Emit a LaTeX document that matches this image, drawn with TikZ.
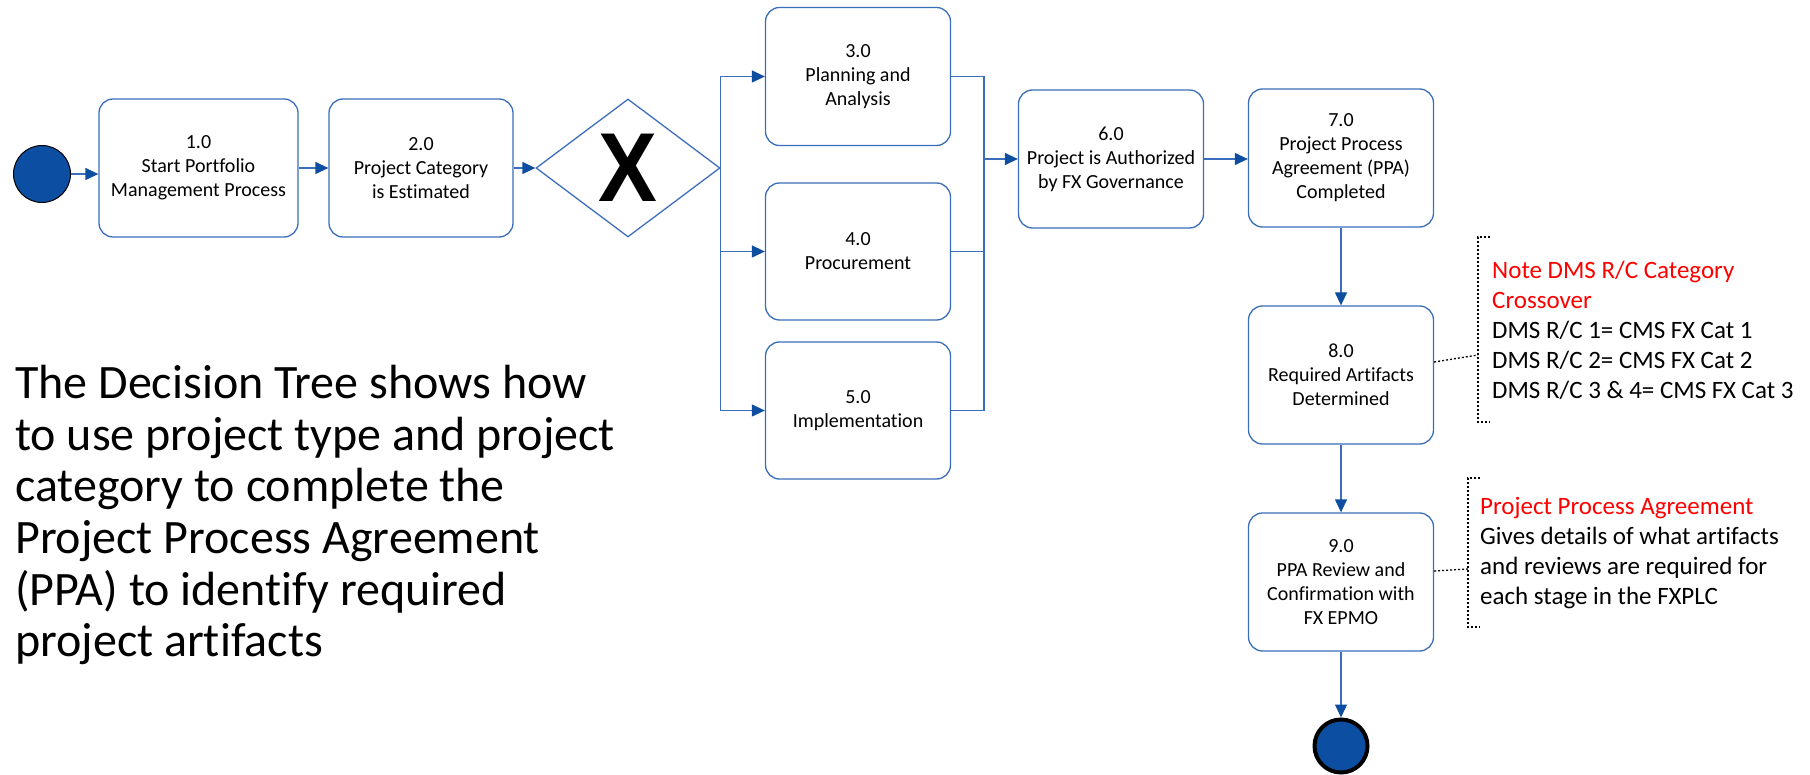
\documentclass[tikz,border=0pt]{standalone}
\usepackage{fontspec}
\setmainfont{Carlito}[Ligatures={NoCommon}]
\newfontfamily\xfont{Liberation Sans}
\usetikzlibrary{arrows.meta,shapes.geometric}
\definecolor{lineblue}{RGB}{58,110,186}
\definecolor{tipblue}{RGB}{14,78,160}
\definecolor{dotblue}{RGB}{12,78,162}
\definecolor{notered}{RGB}{255,0,0}
\begin{document}
\begin{tikzpicture}[x=1pt,y=-1pt,
  proc/.style={draw=lineblue, line width=1.3pt, rounded corners=14pt,
    minimum width=185pt, minimum height=138pt, align=center,
    font=\fontsize{20}{24}\selectfont, inner sep=2pt},
  arr/.style={draw=lineblue, line width=1.3pt,
    -{Triangle[length=13pt,width=12pt,color=tipblue]}},
  flow/.style={draw=lineblue, line width=1.3pt},
  dots/.style={draw=black, line width=1.3pt, dash pattern=on 2pt off 2pt},
  notetext/.style={anchor=west, align=left, inner sep=0pt,
    font=\fontsize{25}{30}\selectfont}]
\useasboundingbox (0,0) rectangle (1810,775);

% events
\node[circle, fill=dotblue, draw=black, line width=1pt, minimum size=57pt, inner sep=0pt] (start) at (42,174) {};
\node[circle, fill=dotblue, draw=black, line width=4pt, minimum size=53pt, inner sep=0pt] (end) at (1341,746) {};

% tasks
\node[proc, minimum width=199pt] (b1) at (198.5,168) {1.0\\Start Portfolio\\Management Process};
\node[proc, minimum width=184pt] (b2) at (421,168) {2.0\\Project Category\\is Estimated};
\node[diamond, aspect=1.333, draw=lineblue, line width=1.3pt, minimum width=184pt, minimum height=138pt, inner sep=0pt,
  font=\xfont\bfseries\fontsize{98}{98}\selectfont] (dia) at (628,168) {\scalebox{0.9}[1]{X}};
\node[proc] (b3) at (858,76.5) {3.0\\Planning and\\Analysis};
\node[proc, minimum height=137pt] (b4) at (858,251.5) {4.0\\Procurement};
\node[proc, minimum height=137pt] (b5) at (858,410.5) {5.0\\Implementation};
\node[proc] (b6) at (1111,159) {6.0\\Project is Authorized\\by FX Governance};
\node[proc] (b7) at (1341,158) {7.0\\Project Process\\Agreement (PPA)\\Completed};
\node[proc] (b8) at (1341,375) {8.0\\Required Artifacts\\Determined};
\node[proc] (b9) at (1341,582) {9.0\\PPA Review and\\Confirmation with\\FX EPMO};

% flows
\draw[arr] (start) -- (start -| b1.west);
\draw[arr] (b1) -- (b2);
\draw[arr] (b2) -- (dia);
\draw[arr] (dia.east) |- (b3.west);
\draw[arr] (dia.east) |- (b4.west);
\draw[arr] (dia.east) |- (b5.west);
\coordinate (m) at (984,159);
\draw[flow] (b3.east) -| (m);
\draw[flow] (b4.east) -| (m);
\draw[flow] (b5.east) -| (m);
\draw[arr] (m) -- (m -| b6.west);
\draw[arr] (b6.east) -- (b6.east -| b7.west);
\draw[arr] (b7) -- (b8);
\draw[arr] (b8) -- (b9);
\draw[arr] (b9) -- (end);

% annotations
\node[notetext] (n1) at (1492,330) {\textcolor{notered}{Note DMS R/C Category}\\\textcolor{notered}{Crossover}\\DMS R/C 1= CMS FX Cat 1\\DMS R/C 2= CMS FX Cat 2\\DMS R/C 3 \& 4= CMS FX Cat 3};
\coordinate (k1) at (1478,355);
\draw[dots] (1490,237) -- (1478,237) -- (1478,422) -- (1490,422);
\draw[dots] ([yshift=13pt]b8.east) -- (k1);

\node[notetext] (n2) at (1480,553) {\textcolor{notered}{Project Process Agreement}\\Gives details of what artifacts\\and reviews are required for\\each stage in the FXPLC};
\coordinate (k2) at (1468,569);
\draw[dots] (1480,478) -- (1468,478) -- (1468,627) -- (1480,627);
\draw[dots] ([yshift=11pt]b9.east) -- (k2);

% description
\node[anchor=west, align=left, inner sep=0pt, font=\fontsize{48}{51.7}\selectfont] (desc) at (15,515)
  {The Decision Tree shows how\\to use project type and project\\category to complete the\\Project Process Agreement\\(PPA) to identify required\\project artifacts};
\end{tikzpicture}
\end{document}
